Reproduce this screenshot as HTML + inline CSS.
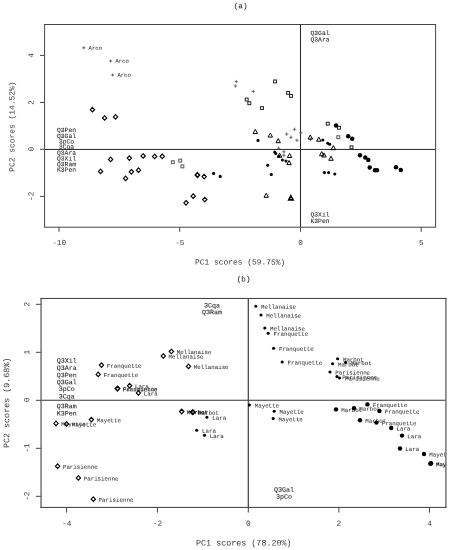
<!DOCTYPE html><html><head><meta charset="utf-8"><title>PCA</title>
<style>html,body{margin:0;padding:0;background:#fff}svg{display:block;will-change:transform}text{font-family:"Liberation Mono",monospace}</style></head><body>
<svg width="450" height="550" viewBox="0 0 450 550">
<rect width="450" height="550" fill="#fff"/>
<defs><clipPath id="ca"><rect x="45" y="24.5" width="390.5" height="202.7"/></clipPath><clipPath id="cb"><rect x="41.2" y="298.6" width="404.6" height="208.8"/></clipPath></defs>
<text transform="translate(240.6 8.31) rotate(0.03)" font-size="7.6" text-anchor="middle" fill="#222" stroke="#222" stroke-width="0.06" >(a)</text>
<g clip-path="url(#ca)">
<path d="M44.6 149.45H435.6M300.5 24.5V227.2" stroke="#262626" stroke-width="1" fill="none"/>
<text transform="translate(66.5 132.09) rotate(0.03)" font-size="6.33" text-anchor="middle" fill="#1c1c1c" stroke="#1c1c1c" stroke-width="0.06" >Q3Pen</text>
<text transform="translate(66.5 138.09) rotate(0.03)" font-size="6.33" text-anchor="middle" fill="#1c1c1c" stroke="#1c1c1c" stroke-width="0.06" >Q3Gal</text>
<text transform="translate(66.5 143.49) rotate(0.03)" font-size="6.33" text-anchor="middle" fill="#1c1c1c" stroke="#1c1c1c" stroke-width="0.06" >3pCo</text>
<text transform="translate(66.5 148.79) rotate(0.03)" font-size="6.33" text-anchor="middle" fill="#1c1c1c" stroke="#1c1c1c" stroke-width="0.06" >3Cqa</text>
<text transform="translate(66.5 154.69) rotate(0.03)" font-size="6.33" text-anchor="middle" fill="#1c1c1c" stroke="#1c1c1c" stroke-width="0.06" >Q3Ara</text>
<text transform="translate(66.5 160.49) rotate(0.03)" font-size="6.33" text-anchor="middle" fill="#1c1c1c" stroke="#1c1c1c" stroke-width="0.06" >Q3Xil</text>
<text transform="translate(66.5 166.29) rotate(0.03)" font-size="6.33" text-anchor="middle" fill="#1c1c1c" stroke="#1c1c1c" stroke-width="0.06" >Q3Ram</text>
<text transform="translate(66.5 171.79) rotate(0.03)" font-size="6.33" text-anchor="middle" fill="#1c1c1c" stroke="#1c1c1c" stroke-width="0.06" >K3Pen</text>
<text transform="translate(310.5 35.09) rotate(0.03)" font-size="6.33" text-anchor="start" fill="#1c1c1c" stroke="#1c1c1c" stroke-width="0.06" >Q3Gal</text>
<text transform="translate(310.5 41.49) rotate(0.03)" font-size="6.33" text-anchor="start" fill="#1c1c1c" stroke="#1c1c1c" stroke-width="0.06" >Q3Ara</text>
<text transform="translate(310.5 216.49) rotate(0.03)" font-size="6.33" text-anchor="start" fill="#1c1c1c" stroke="#1c1c1c" stroke-width="0.06" >Q3Xil</text>
<text transform="translate(310.5 222.89) rotate(0.03)" font-size="6.33" text-anchor="start" fill="#1c1c1c" stroke="#1c1c1c" stroke-width="0.06" >K3Pen</text>
<path d="M82.30 47.8H85.30M83.8 46.30V49.30" stroke="#444" stroke-width="0.8" fill="none"/>
<text transform="translate(88.6 49.65) rotate(0.03)" font-size="5.6" text-anchor="start" fill="#2c2c2c" stroke="#2c2c2c" stroke-width="0.04" >Arco</text>
<path d="M109.10 61.0H112.10M110.6 59.50V62.50" stroke="#444" stroke-width="0.8" fill="none"/>
<text transform="translate(115.4 62.85) rotate(0.03)" font-size="5.6" text-anchor="start" fill="#2c2c2c" stroke="#2c2c2c" stroke-width="0.04" >Arco</text>
<path d="M111.10 75.0H114.10M112.6 73.50V76.50" stroke="#444" stroke-width="0.8" fill="none"/>
<text transform="translate(117.4 76.85) rotate(0.03)" font-size="5.6" text-anchor="start" fill="#2c2c2c" stroke="#2c2c2c" stroke-width="0.04" >Arco</text>
<path d="M92.4 107.40L94.55 109.7L92.4 112.00L90.25 109.7Z" fill="none" stroke="#000" stroke-width="1.12"/>
<path d="M104.6 115.70L106.75 118.0L104.6 120.30L102.45 118.0Z" fill="none" stroke="#000" stroke-width="1.12"/>
<path d="M115.5 114.60L117.65 116.9L115.5 119.20L113.35 116.9Z" fill="none" stroke="#000" stroke-width="1.12"/>
<path d="M110.6 157.10L112.75 159.4L110.6 161.70L108.45 159.4Z" fill="none" stroke="#000" stroke-width="1.12"/>
<path d="M129.4 155.80L131.55 158.1L129.4 160.40L127.25 158.1Z" fill="none" stroke="#000" stroke-width="1.12"/>
<path d="M100.6 169.10L102.75 171.4L100.6 173.70L98.45 171.4Z" fill="none" stroke="#000" stroke-width="1.12"/>
<path d="M131.4 169.50L133.55 171.8L131.4 174.10L129.25 171.8Z" fill="none" stroke="#000" stroke-width="1.12"/>
<path d="M125.6 176.10L127.75 178.4L125.6 180.70L123.45 178.4Z" fill="none" stroke="#000" stroke-width="1.12"/>
<path d="M143.1 153.70L145.25 156.0L143.1 158.30L140.95 156.0Z" fill="none" stroke="#000" stroke-width="1.12"/>
<path d="M154.6 154.20L156.75 156.5L154.6 158.80L152.45 156.5Z" fill="none" stroke="#000" stroke-width="1.12"/>
<path d="M162.2 154.00L164.35 156.3L162.2 158.60L160.05 156.3Z" fill="none" stroke="#000" stroke-width="1.12"/>
<path d="M138.5 167.90L140.65 170.2L138.5 172.50L136.35 170.2Z" fill="none" stroke="#000" stroke-width="1.12"/>
<path d="M204.2 174.30L206.35 176.6L204.2 178.90L202.05 176.6Z" fill="none" stroke="#000" stroke-width="1.12"/>
<path d="M193.2 193.90L195.35 196.2L193.2 198.50L191.05 196.2Z" fill="none" stroke="#000" stroke-width="1.12"/>
<path d="M186.0 200.50L188.15 202.8L186.0 205.10L183.85 202.8Z" fill="none" stroke="#000" stroke-width="1.12"/>
<path d="M204.8 197.30L206.95 199.6L204.8 201.90L202.65 199.6Z" fill="none" stroke="#000" stroke-width="1.12"/>
<path d="M197.4 172.70L199.55 175.0L197.4 177.30L195.25 175.0Z" fill="none" stroke="#000" stroke-width="1.5"/>
<rect x="171.35" y="160.75" width="2.9" height="2.9" fill="none" stroke="#555" stroke-width="1.0"/>
<rect x="178.75" y="159.15" width="2.9" height="2.9" fill="none" stroke="#555" stroke-width="1.0"/>
<rect x="180.95" y="164.95" width="2.9" height="2.9" fill="none" stroke="#555" stroke-width="1.0"/>
<rect x="336.85" y="135.75" width="2.9" height="2.9" fill="none" stroke="#555" stroke-width="1.0"/>
<rect x="273.65" y="79.95" width="2.9" height="2.9" fill="none" stroke="#222" stroke-width="1.0"/>
<rect x="286.65" y="91.45" width="2.9" height="2.9" fill="none" stroke="#222" stroke-width="1.0"/>
<rect x="289.55" y="94.45" width="2.9" height="2.9" fill="none" stroke="#222" stroke-width="1.0"/>
<rect x="245.25" y="98.15" width="2.9" height="2.9" fill="none" stroke="#222" stroke-width="1.0"/>
<rect x="247.85" y="101.75" width="2.9" height="2.9" fill="none" stroke="#222" stroke-width="1.0"/>
<rect x="260.55" y="106.65" width="2.9" height="2.9" fill="none" stroke="#222" stroke-width="1.0"/>
<rect x="326.35" y="122.25" width="2.9" height="2.9" fill="none" stroke="#222" stroke-width="1.0"/>
<rect x="337.55" y="126.35" width="2.9" height="2.9" fill="none" stroke="#222" stroke-width="1.0"/>
<rect x="350.05" y="145.85" width="2.9" height="2.9" fill="none" stroke="#222" stroke-width="1.0"/>
<path d="M234.60 81.6H238.00M236.3 79.90V83.30" stroke="#4c4c4c" stroke-width="0.75" fill="none"/>
<path d="M233.70 86.0H237.10M235.4 84.30V87.70" stroke="#4c4c4c" stroke-width="0.75" fill="none"/>
<path d="M251.60 91.4H255.00M253.3 89.70V93.10" stroke="#4c4c4c" stroke-width="0.75" fill="none"/>
<path d="M292.80 129.3H296.20M294.5 127.60V131.00" stroke="#4c4c4c" stroke-width="0.75" fill="none"/>
<path d="M285.00 134.1H288.40M286.7 132.40V135.80" stroke="#4c4c4c" stroke-width="0.75" fill="none"/>
<path d="M289.20 137.3H292.60M290.9 135.60V139.00" stroke="#4c4c4c" stroke-width="0.75" fill="none"/>
<path d="M295.20 140.3H298.60M296.9 138.60V142.00" stroke="#4c4c4c" stroke-width="0.75" fill="none"/>
<path d="M299.10 132.8H302.50M300.8 131.10V134.50" stroke="#4c4c4c" stroke-width="0.75" fill="none"/>
<path d="M277.00 148.3H280.40M278.7 146.60V150.00" stroke="#4c4c4c" stroke-width="0.75" fill="none"/>
<path d="M282.20 151.8H285.60M283.9 150.10V153.50" stroke="#4c4c4c" stroke-width="0.75" fill="none"/>
<path d="M282.20 155.3H285.60M283.9 153.60V157.00" stroke="#4c4c4c" stroke-width="0.75" fill="none"/>
<path d="M308.80 139.6H312.20M310.5 137.90V141.30" stroke="#4c4c4c" stroke-width="0.75" fill="none"/>
<path d="M255.3 129.40L257.50 133.50L253.10 133.50Z" fill="none" stroke="#000" stroke-width="1.0"/>
<path d="M270.3 133.00L272.50 137.10L268.10 137.10Z" fill="none" stroke="#000" stroke-width="1.0"/>
<path d="M278.2 138.60L280.40 142.70L276.00 142.70Z" fill="none" stroke="#000" stroke-width="1.0"/>
<path d="M279.6 153.20L281.80 157.30L277.40 157.30Z" fill="none" stroke="#000" stroke-width="1.0"/>
<path d="M289.6 153.40L291.80 157.50L287.40 157.50Z" fill="none" stroke="#000" stroke-width="1.0"/>
<path d="M289.1 160.50L291.30 164.60L286.90 164.60Z" fill="none" stroke="#000" stroke-width="1.0"/>
<path d="M310.3 134.90L312.50 139.00L308.10 139.00Z" fill="none" stroke="#000" stroke-width="1.0"/>
<path d="M318.8 137.10L321.00 141.20L316.60 141.20Z" fill="none" stroke="#000" stroke-width="1.0"/>
<path d="M333.3 145.60L335.50 149.70L331.10 149.70Z" fill="none" stroke="#000" stroke-width="1.0"/>
<path d="M321.7 151.60L323.90 155.70L319.50 155.70Z" fill="none" stroke="#000" stroke-width="1.0"/>
<path d="M324.0 152.90L326.20 157.00L321.80 157.00Z" fill="none" stroke="#000" stroke-width="1.0"/>
<path d="M331.0 156.20L333.20 160.30L328.80 160.30Z" fill="none" stroke="#000" stroke-width="1.0"/>
<path d="M266.2 193.20L268.40 197.30L264.00 197.30Z" fill="none" stroke="#000" stroke-width="1.0"/>
<path d="M290.9 195.80L293.10 199.90L288.70 199.90Z" fill="none" stroke="#000" stroke-width="1.6"/>
<circle cx="213.6" cy="173.4" r="1.55" fill="#000"/>
<circle cx="220.2" cy="176.4" r="1.55" fill="#000"/>
<circle cx="258.0" cy="140.4" r="1.55" fill="#000"/>
<circle cx="274.7" cy="152.0" r="1.55" fill="#000"/>
<circle cx="275.8" cy="153.6" r="1.55" fill="#000"/>
<circle cx="278.7" cy="156.3" r="1.55" fill="#000"/>
<circle cx="282.4" cy="160.0" r="1.55" fill="#000"/>
<circle cx="286.0" cy="161.0" r="1.55" fill="#000"/>
<circle cx="267.6" cy="165.3" r="1.55" fill="#000"/>
<circle cx="271.3" cy="174.4" r="1.55" fill="#000"/>
<circle cx="324.4" cy="172.6" r="1.55" fill="#000"/>
<circle cx="328.6" cy="172.6" r="1.55" fill="#000"/>
<circle cx="334.8" cy="174.0" r="1.55" fill="#000"/>
<circle cx="322.8" cy="140.0" r="1.55" fill="#000"/>
<circle cx="327.8" cy="143.3" r="1.55" fill="#000"/>
<circle cx="329.7" cy="144.2" r="1.55" fill="#000"/>
<circle cx="336.0" cy="125.5" r="2.2" fill="#000"/>
<circle cx="348.2" cy="136.3" r="2.2" fill="#000"/>
<circle cx="352.2" cy="138.7" r="2.2" fill="#000"/>
<circle cx="360.0" cy="155.3" r="2.2" fill="#000"/>
<circle cx="365.3" cy="157.5" r="2.2" fill="#000"/>
<circle cx="368.3" cy="160.0" r="2.2" fill="#000"/>
<circle cx="369.7" cy="167.5" r="2.2" fill="#000"/>
<circle cx="375.0" cy="170.3" r="2.2" fill="#000"/>
<circle cx="377.0" cy="170.3" r="2.2" fill="#000"/>
<circle cx="396.0" cy="167.2" r="2.2" fill="#000"/>
<circle cx="400.8" cy="170.0" r="2.2" fill="#000"/>
</g>
<rect x="44.6" y="24.5" width="391.0" height="202.7" fill="none" stroke="#454545" stroke-width="1"/>
<path d="M59 227.2v4.6M179.7 227.2v4.6M300.5 227.2v4.6M421.2 227.2v4.6M44.6 55.4h-4.6M44.6 102.4h-4.6M44.6 149.3h-4.6M44.6 196.4h-4.6" stroke="#454545" stroke-width="1" fill="none"/>
<text transform="translate(59.1 245.06) rotate(0.03)" font-size="7.75" text-anchor="middle" fill="#383838" stroke="#383838" stroke-width="0" >-10</text>
<text transform="translate(179.8 245.06) rotate(0.03)" font-size="7.75" text-anchor="middle" fill="#383838" stroke="#383838" stroke-width="0" >-5</text>
<text transform="translate(300.6 245.06) rotate(0.03)" font-size="7.75" text-anchor="middle" fill="#383838" stroke="#383838" stroke-width="0" >0</text>
<text transform="translate(421.3 245.06) rotate(0.03)" font-size="7.75" text-anchor="middle" fill="#383838" stroke="#383838" stroke-width="0" >5</text>
<text transform="translate(33.56 55.3) rotate(-90.03)" font-size="7.75" text-anchor="middle" fill="#383838" stroke="#383838" stroke-width="0" >4</text>
<text transform="translate(33.56 102.3) rotate(-90.03)" font-size="7.75" text-anchor="middle" fill="#383838" stroke="#383838" stroke-width="0" >2</text>
<text transform="translate(33.56 149.2) rotate(-90.03)" font-size="7.75" text-anchor="middle" fill="#383838" stroke="#383838" stroke-width="0" >0</text>
<text transform="translate(33.56 196.3) rotate(-90.03)" font-size="7.75" text-anchor="middle" fill="#383838" stroke="#383838" stroke-width="0" >-2</text>
<text transform="translate(240.2 264.61) rotate(0.03)" font-size="7.92" text-anchor="middle" fill="#383838" stroke="#383838" stroke-width="0" >PC1 scores (59.75%)</text>
<text transform="translate(14.51 126.6) rotate(-90.03)" font-size="7.92" text-anchor="middle" fill="#383838" stroke="#383838" stroke-width="0" >PC2 scores (14.52%)</text>
<text transform="translate(243.6 281.51) rotate(0.03)" font-size="7.6" text-anchor="middle" fill="#222" stroke="#222" stroke-width="0.06" >(b)</text>
<g clip-path="url(#cb)">
<path d="M41.05 400.3H445.9" stroke="#333" stroke-width="1.1" fill="none"/><path d="M248.3 298.45V507.4" stroke="#3a3a3a" stroke-width="1.2" fill="none"/>
<text transform="translate(66.7 362.80) rotate(0.03)" font-size="6.67" text-anchor="middle" fill="#1c1c1c" stroke="#1c1c1c" stroke-width="0.06" >Q3Xil</text>
<text transform="translate(66.7 369.90) rotate(0.03)" font-size="6.67" text-anchor="middle" fill="#1c1c1c" stroke="#1c1c1c" stroke-width="0.06" >Q3Ara</text>
<text transform="translate(66.7 377.20) rotate(0.03)" font-size="6.67" text-anchor="middle" fill="#1c1c1c" stroke="#1c1c1c" stroke-width="0.06" >Q3Pen</text>
<text transform="translate(66.7 384.20) rotate(0.03)" font-size="6.67" text-anchor="middle" fill="#1c1c1c" stroke="#1c1c1c" stroke-width="0.06" >Q3Gal</text>
<text transform="translate(66.7 390.90) rotate(0.03)" font-size="6.67" text-anchor="middle" fill="#1c1c1c" stroke="#1c1c1c" stroke-width="0.06" >3pCo</text>
<text transform="translate(66.7 398.60) rotate(0.03)" font-size="6.67" text-anchor="middle" fill="#1c1c1c" stroke="#1c1c1c" stroke-width="0.06" >3Cqa</text>
<text transform="translate(66.7 408.20) rotate(0.03)" font-size="6.67" text-anchor="middle" fill="#1c1c1c" stroke="#1c1c1c" stroke-width="0.06" >Q3Ram</text>
<text transform="translate(66.7 415.60) rotate(0.03)" font-size="6.67" text-anchor="middle" fill="#1c1c1c" stroke="#1c1c1c" stroke-width="0.06" >K3Pen</text>
<text transform="translate(212.1 307.60) rotate(0.03)" font-size="6.67" text-anchor="middle" fill="#1c1c1c" stroke="#1c1c1c" stroke-width="0.06" >3Cqa</text>
<text transform="translate(212.1 314.20) rotate(0.03)" font-size="6.67" text-anchor="middle" fill="#1c1c1c" stroke="#1c1c1c" stroke-width="0.06" >Q3Ram</text>
<text transform="translate(284.1 491.80) rotate(0.03)" font-size="6.67" text-anchor="middle" fill="#1c1c1c" stroke="#1c1c1c" stroke-width="0.06" >Q3Gal</text>
<text transform="translate(284.1 498.80) rotate(0.03)" font-size="6.67" text-anchor="middle" fill="#1c1c1c" stroke="#1c1c1c" stroke-width="0.06" >3pCo</text>
<text transform="translate(106.8 367.71) rotate(0.03)" font-size="5.8" text-anchor="start" fill="#2c2c2c" stroke="#2c2c2c" stroke-width="0.04" >Franquette</text>
<text transform="translate(103.5 377.01) rotate(0.03)" font-size="5.8" text-anchor="start" fill="#2c2c2c" stroke="#2c2c2c" stroke-width="0.04" >Franquette</text>
<text transform="translate(134.9 388.31) rotate(0.03)" font-size="5.8" text-anchor="start" fill="#2c2c2c" stroke="#2c2c2c" stroke-width="0.04" >Lara</text>
<text transform="translate(143.7 395.61) rotate(0.03)" font-size="5.8" text-anchor="start" fill="#2c2c2c" stroke="#2c2c2c" stroke-width="0.04" >Lara</text>
<text transform="translate(176.7 354.11) rotate(0.03)" font-size="5.8" text-anchor="start" fill="#2c2c2c" stroke="#2c2c2c" stroke-width="0.04" >Mellanaise</text>
<text transform="translate(168.6 358.61) rotate(0.03)" font-size="5.8" text-anchor="start" fill="#2c2c2c" stroke="#2c2c2c" stroke-width="0.04" >Mellanaise</text>
<text transform="translate(193.8 369.01) rotate(0.03)" font-size="5.8" text-anchor="start" fill="#2c2c2c" stroke="#2c2c2c" stroke-width="0.04" >Mellanaise</text>
<text transform="translate(96.7 422.21) rotate(0.03)" font-size="5.8" text-anchor="start" fill="#2c2c2c" stroke="#2c2c2c" stroke-width="0.04" >Mayette</text>
<text transform="translate(61.3 426.01) rotate(0.03)" font-size="5.8" text-anchor="start" fill="#2c2c2c" stroke="#2c2c2c" stroke-width="0.04" >Mayette</text>
<text transform="translate(71.9 426.61) rotate(0.03)" font-size="5.8" text-anchor="start" fill="#2c2c2c" stroke="#2c2c2c" stroke-width="0.04" >Mayette</text>
<text transform="translate(62.9 468.81) rotate(0.03)" font-size="5.8" text-anchor="start" fill="#2c2c2c" stroke="#2c2c2c" stroke-width="0.04" >Parisienne</text>
<text transform="translate(83.7 480.61) rotate(0.03)" font-size="5.8" text-anchor="start" fill="#2c2c2c" stroke="#2c2c2c" stroke-width="0.04" >Parisienne</text>
<text transform="translate(98.6 501.81) rotate(0.03)" font-size="5.8" text-anchor="start" fill="#2c2c2c" stroke="#2c2c2c" stroke-width="0.04" >Parisienne</text>
<text transform="translate(198.1 414.71) rotate(0.03)" font-size="5.8" text-anchor="start" fill="#2c2c2c" stroke="#2c2c2c" stroke-width="0.04" >Marbot</text>
<path d="M101.5 362.80L103.65 365.1L101.5 367.40L99.35 365.1Z" fill="none" stroke="#000" stroke-width="1.12"/>
<path d="M98.2 372.10L100.35 374.4L98.2 376.70L96.05 374.4Z" fill="none" stroke="#000" stroke-width="1.12"/>
<path d="M129.6 383.40L131.75 385.7L129.6 388.00L127.45 385.7Z" fill="none" stroke="#000" stroke-width="1.12"/>
<path d="M138.4 390.70L140.55 393.0L138.4 395.30L136.25 393.0Z" fill="none" stroke="#000" stroke-width="1.12"/>
<path d="M171.4 349.20L173.55 351.5L171.4 353.80L169.25 351.5Z" fill="none" stroke="#000" stroke-width="1.12"/>
<path d="M163.3 353.70L165.45 356.0L163.3 358.30L161.15 356.0Z" fill="none" stroke="#000" stroke-width="1.12"/>
<path d="M188.5 364.10L190.65 366.4L188.5 368.70L186.35 366.4Z" fill="none" stroke="#000" stroke-width="1.12"/>
<path d="M91.4 417.30L93.55 419.6L91.4 421.90L89.25 419.6Z" fill="none" stroke="#000" stroke-width="1.12"/>
<path d="M56.0 421.10L58.15 423.4L56.0 425.70L53.85 423.4Z" fill="none" stroke="#000" stroke-width="1.12"/>
<path d="M66.6 421.70L68.75 424.0L66.6 426.30L64.45 424.0Z" fill="none" stroke="#000" stroke-width="1.12"/>
<path d="M57.6 463.90L59.75 466.2L57.6 468.50L55.45 466.2Z" fill="none" stroke="#000" stroke-width="1.12"/>
<path d="M78.4 475.70L80.55 478.0L78.4 480.30L76.25 478.0Z" fill="none" stroke="#000" stroke-width="1.12"/>
<path d="M93.3 496.90L95.45 499.2L93.3 501.50L91.15 499.2Z" fill="none" stroke="#000" stroke-width="1.12"/>
<path d="M192.8 409.80L194.95 412.1L192.8 414.40L190.65 412.1Z" fill="none" stroke="#000" stroke-width="1.12"/>
<path d="M117.5 386.30L119.65 388.6L117.5 390.90L115.35 388.6Z" fill="none" stroke="#000" stroke-width="1.5"/>
<text transform="translate(122.8 391.21) rotate(0.03)" font-size="5.8" text-anchor="start" fill="#2c2c2c" stroke="#2c2c2c" stroke-width="0.04" >Franquette</text>
<text transform="translate(122.8 391.21) rotate(0.03)" font-size="5.8" text-anchor="start" fill="#2c2c2c" stroke="#2c2c2c" stroke-width="0.04" >Parisienne</text>
<text transform="translate(187.0 414.21) rotate(0.03)" font-size="5.8" text-anchor="start" fill="#111" stroke="#111" stroke-width="0.04" font-weight="bold">Marbot</text>
<path d="M181.7 409.30L183.85 411.6L181.7 413.90L179.55 411.6Z" fill="none" stroke="#000" stroke-width="1.3"/>
<path d="M192.8 409.80L194.95 412.1L192.8 414.40L190.65 412.1Z" fill="none" stroke="#000" stroke-width="1.12"/>
<circle cx="255.8" cy="306.2" r="1.55" fill="#000"/>
<text transform="translate(261.1 308.81) rotate(0.03)" font-size="5.8" text-anchor="start" fill="#2c2c2c" stroke="#2c2c2c" stroke-width="0.04" >Mellanaise</text>
<circle cx="261.0" cy="315.0" r="1.55" fill="#000"/>
<text transform="translate(266.3 317.61) rotate(0.03)" font-size="5.8" text-anchor="start" fill="#2c2c2c" stroke="#2c2c2c" stroke-width="0.04" >Mellanaise</text>
<circle cx="264.8" cy="328.0" r="1.55" fill="#000"/>
<text transform="translate(270.1 330.61) rotate(0.03)" font-size="5.8" text-anchor="start" fill="#2c2c2c" stroke="#2c2c2c" stroke-width="0.04" >Mellanaise</text>
<circle cx="268.2" cy="333.2" r="1.55" fill="#000"/>
<text transform="translate(273.5 335.81) rotate(0.03)" font-size="5.8" text-anchor="start" fill="#2c2c2c" stroke="#2c2c2c" stroke-width="0.04" >Franquette</text>
<circle cx="273.6" cy="348.2" r="1.55" fill="#000"/>
<text transform="translate(278.9 350.81) rotate(0.03)" font-size="5.8" text-anchor="start" fill="#2c2c2c" stroke="#2c2c2c" stroke-width="0.04" >Franquette</text>
<circle cx="282.2" cy="362.0" r="1.55" fill="#000"/>
<text transform="translate(287.5 364.61) rotate(0.03)" font-size="5.8" text-anchor="start" fill="#2c2c2c" stroke="#2c2c2c" stroke-width="0.04" >Franquette</text>
<circle cx="337.6" cy="358.8" r="1.55" fill="#000"/>
<text transform="translate(342.9 361.41) rotate(0.03)" font-size="5.8" text-anchor="start" fill="#2c2c2c" stroke="#2c2c2c" stroke-width="0.04" >Marbot</text>
<circle cx="332.6" cy="363.8" r="1.55" fill="#000"/>
<text transform="translate(337.9 366.41) rotate(0.03)" font-size="5.8" text-anchor="start" fill="#2c2c2c" stroke="#2c2c2c" stroke-width="0.04" >Marbot</text>
<circle cx="345.6" cy="362.4" r="1.55" fill="#000"/>
<text transform="translate(350.9 365.01) rotate(0.03)" font-size="5.8" text-anchor="start" fill="#2c2c2c" stroke="#2c2c2c" stroke-width="0.04" >Marbot</text>
<circle cx="330.0" cy="372.0" r="1.55" fill="#000"/>
<text transform="translate(335.3 374.61) rotate(0.03)" font-size="5.8" text-anchor="start" fill="#2c2c2c" stroke="#2c2c2c" stroke-width="0.04" >Parisienne</text>
<circle cx="337.0" cy="376.6" r="1.55" fill="#000"/>
<text transform="translate(342.3 379.21) rotate(0.03)" font-size="5.8" text-anchor="start" fill="#2c2c2c" stroke="#2c2c2c" stroke-width="0.04" >Parisienne</text>
<circle cx="339.6" cy="378.0" r="1.55" fill="#000"/>
<text transform="translate(344.9 380.61) rotate(0.03)" font-size="5.8" text-anchor="start" fill="#2c2c2c" stroke="#2c2c2c" stroke-width="0.04" >Parisienne</text>
<circle cx="249.4" cy="405.0" r="1.55" fill="#000"/>
<text transform="translate(254.7 407.61) rotate(0.03)" font-size="5.8" text-anchor="start" fill="#2c2c2c" stroke="#2c2c2c" stroke-width="0.04" >Mayette</text>
<circle cx="274.2" cy="411.2" r="1.55" fill="#000"/>
<text transform="translate(279.5 413.81) rotate(0.03)" font-size="5.8" text-anchor="start" fill="#2c2c2c" stroke="#2c2c2c" stroke-width="0.04" >Mayette</text>
<circle cx="273.2" cy="418.6" r="1.55" fill="#000"/>
<text transform="translate(278.5 421.21) rotate(0.03)" font-size="5.8" text-anchor="start" fill="#2c2c2c" stroke="#2c2c2c" stroke-width="0.04" >Mayette</text>
<circle cx="206.9" cy="417.2" r="1.55" fill="#000"/>
<text transform="translate(212.2 419.81) rotate(0.03)" font-size="5.8" text-anchor="start" fill="#2c2c2c" stroke="#2c2c2c" stroke-width="0.04" >Lara</text>
<circle cx="196.7" cy="430.2" r="1.55" fill="#000"/>
<text transform="translate(202.0 432.81) rotate(0.03)" font-size="5.8" text-anchor="start" fill="#2c2c2c" stroke="#2c2c2c" stroke-width="0.04" >Lara</text>
<circle cx="204.5" cy="435.3" r="1.55" fill="#000"/>
<text transform="translate(209.8 437.91) rotate(0.03)" font-size="5.8" text-anchor="start" fill="#2c2c2c" stroke="#2c2c2c" stroke-width="0.04" >Lara</text>
<circle cx="336.0" cy="409.4" r="2.2" fill="#000"/>
<text transform="translate(341.3 412.01) rotate(0.03)" font-size="5.8" text-anchor="start" fill="#2c2c2c" stroke="#2c2c2c" stroke-width="0.04" >Marbot</text>
<circle cx="354.0" cy="408.2" r="2.2" fill="#000"/>
<text transform="translate(359.3 410.81) rotate(0.03)" font-size="5.8" text-anchor="start" fill="#2c2c2c" stroke="#2c2c2c" stroke-width="0.04" >Marbot</text>
<circle cx="367.4" cy="404.4" r="2.2" fill="#000"/>
<text transform="translate(372.7 407.01) rotate(0.03)" font-size="5.8" text-anchor="start" fill="#2c2c2c" stroke="#2c2c2c" stroke-width="0.04" >Franquette</text>
<circle cx="379.4" cy="411.0" r="2.2" fill="#000"/>
<text transform="translate(384.7 413.61) rotate(0.03)" font-size="5.8" text-anchor="start" fill="#2c2c2c" stroke="#2c2c2c" stroke-width="0.04" >Franquette</text>
<circle cx="360.0" cy="420.2" r="2.2" fill="#000"/>
<text transform="translate(365.3 422.81) rotate(0.03)" font-size="5.8" text-anchor="start" fill="#2c2c2c" stroke="#2c2c2c" stroke-width="0.04" >Marbot</text>
<circle cx="376.4" cy="422.6" r="2.2" fill="#000"/>
<text transform="translate(381.7 425.21) rotate(0.03)" font-size="5.8" text-anchor="start" fill="#2c2c2c" stroke="#2c2c2c" stroke-width="0.04" >Franquette</text>
<circle cx="391.2" cy="428.0" r="2.2" fill="#000"/>
<text transform="translate(396.5 430.61) rotate(0.03)" font-size="5.8" text-anchor="start" fill="#2c2c2c" stroke="#2c2c2c" stroke-width="0.04" >Lara</text>
<circle cx="402.0" cy="435.6" r="2.2" fill="#000"/>
<text transform="translate(407.3 438.21) rotate(0.03)" font-size="5.8" text-anchor="start" fill="#2c2c2c" stroke="#2c2c2c" stroke-width="0.04" >Lara</text>
<circle cx="400.0" cy="448.5" r="2.2" fill="#000"/>
<text transform="translate(405.3 451.11) rotate(0.03)" font-size="5.8" text-anchor="start" fill="#2c2c2c" stroke="#2c2c2c" stroke-width="0.04" >Lara</text>
<circle cx="424.0" cy="454.0" r="2.2" fill="#000"/>
<text transform="translate(429.3 456.61) rotate(0.03)" font-size="5.8" text-anchor="start" fill="#2c2c2c" stroke="#2c2c2c" stroke-width="0.04" >Mayette</text>
<circle cx="430.4" cy="463.8" r="2.3" fill="#000"/>
<circle cx="431.0" cy="463.2" r="2.2" fill="#000"/>
<text transform="translate(435.9 466.21) rotate(0.03)" font-size="5.8" text-anchor="start" fill="#111" stroke="#111" stroke-width="0.04" font-weight="bold">Mayette</text>
</g>
<path d="M41.05 297.95V507.9M445.9 297.95V507.9" stroke="#606060" stroke-width="1.3" fill="none"/><path d="M40.449999999999996 298.45H446.5M40.449999999999996 507.4H446.5" stroke="#3a3a3a" stroke-width="1" fill="none"/>
<path d="M66.6 507.4v5.2M157.4 507.4v5.2M248.3 507.4v5.2M338.9 507.4v5.2M429.5 507.4v5.2M41.05 304.3h-5.2M41.05 352.3h-5.2M41.05 400.3h-5.2M41.05 448.3h-5.2M41.05 496.3h-5.2" stroke="#454545" stroke-width="1" fill="none"/>
<text transform="translate(66.7 525.76) rotate(0.03)" font-size="7.75" text-anchor="middle" fill="#383838" stroke="#383838" stroke-width="0" >-4</text>
<text transform="translate(157.5 525.76) rotate(0.03)" font-size="7.75" text-anchor="middle" fill="#383838" stroke="#383838" stroke-width="0" >-2</text>
<text transform="translate(248.3 525.76) rotate(0.03)" font-size="7.75" text-anchor="middle" fill="#383838" stroke="#383838" stroke-width="0" >0</text>
<text transform="translate(338.9 525.76) rotate(0.03)" font-size="7.75" text-anchor="middle" fill="#383838" stroke="#383838" stroke-width="0" >2</text>
<text transform="translate(429.5 525.76) rotate(0.03)" font-size="7.75" text-anchor="middle" fill="#383838" stroke="#383838" stroke-width="0" >4</text>
<text transform="translate(29.26 304.1) rotate(-90.03)" font-size="7.75" text-anchor="middle" fill="#383838" stroke="#383838" stroke-width="0" >2</text>
<text transform="translate(29.26 352.1) rotate(-90.03)" font-size="7.75" text-anchor="middle" fill="#383838" stroke="#383838" stroke-width="0" >1</text>
<text transform="translate(29.26 400.0) rotate(-90.03)" font-size="7.75" text-anchor="middle" fill="#383838" stroke="#383838" stroke-width="0" >0</text>
<text transform="translate(29.26 448.1) rotate(-90.03)" font-size="7.75" text-anchor="middle" fill="#383838" stroke="#383838" stroke-width="0" >-1</text>
<text transform="translate(29.26 496.2) rotate(-90.03)" font-size="7.75" text-anchor="middle" fill="#383838" stroke="#383838" stroke-width="0" >-2</text>
<text transform="translate(243.8 545.57) rotate(0.03)" font-size="8.38" text-anchor="middle" fill="#383838" stroke="#383838" stroke-width="0" >PC1 scores (78.20%)</text>
<text transform="translate(9.17 402.8) rotate(-90.03)" font-size="8.38" text-anchor="middle" fill="#383838" stroke="#383838" stroke-width="0" >PC2 scores (9.68%)</text>
</svg></body></html>
